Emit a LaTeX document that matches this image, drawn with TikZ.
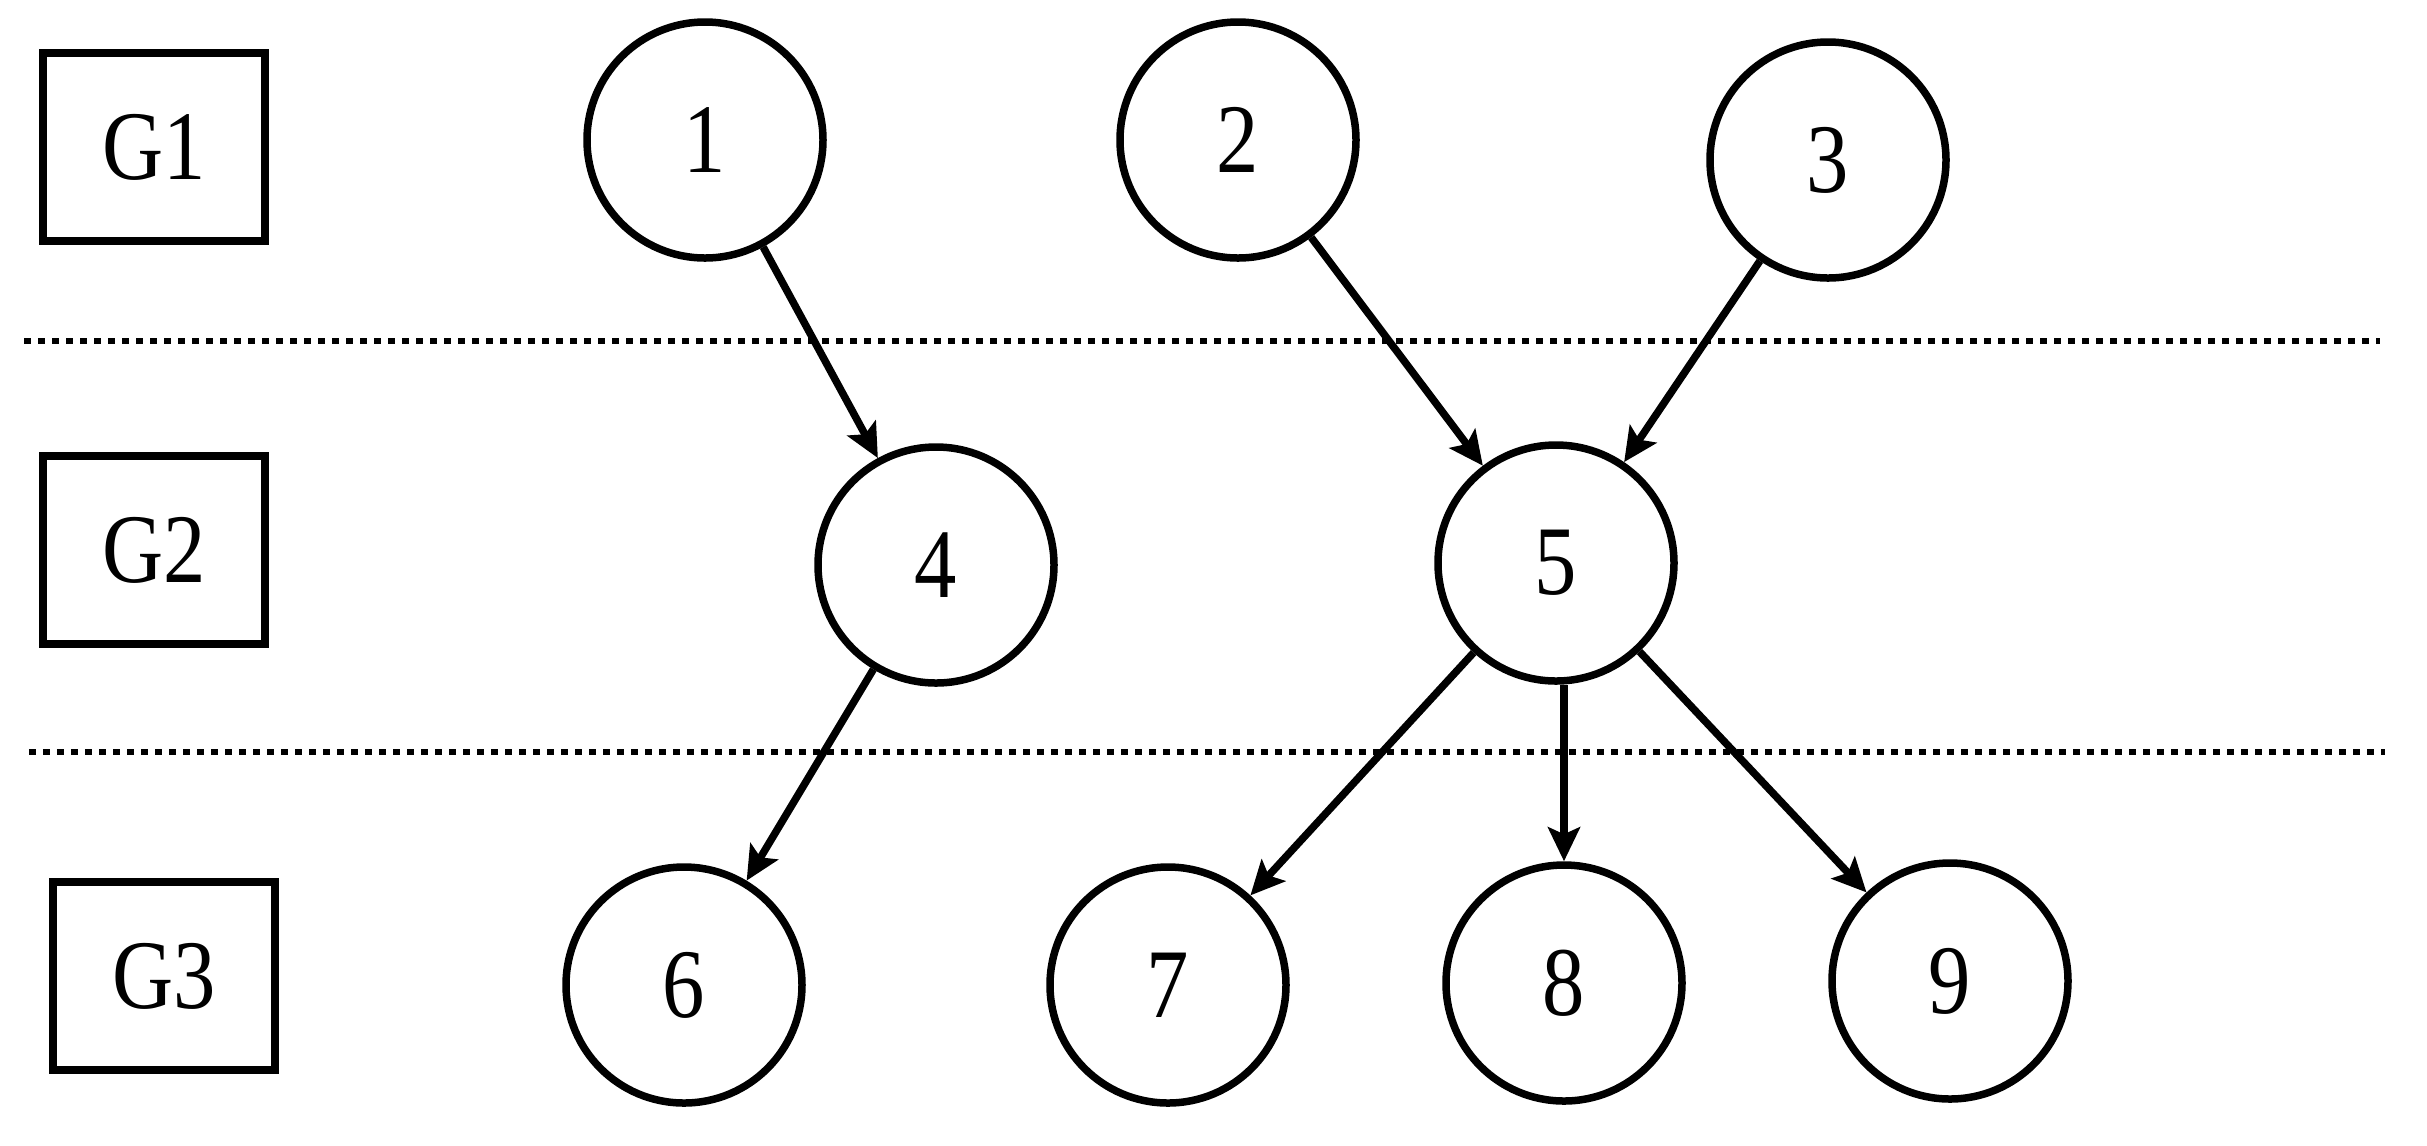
\documentclass[tikz,border=0pt]{standalone}
\usepackage{fontspec}
\setmainfont{Liberation Serif}[FakeStretch=0.86]
\usetikzlibrary{arrows.meta}
\begin{document}
\begin{tikzpicture}[
  every node/.style={font=\fontsize{28}{30}\selectfont},
  vert/.style={circle, draw, line width=0.75mm, minimum size=2.36cm, inner sep=0pt},
  grp/.style={rectangle, draw, line width=0.8mm, minimum width=2.22cm, minimum height=1.88cm, inner sep=0pt},
  sep/.style={line width=0.6mm, dash pattern=on 0.7mm off 0.7mm},
  link/.style={line width=0.75mm, -{Stealth[length=3.4mm,width=3.2mm,inset=0.7mm]}}
]
\useasboundingbox (0,0) rectangle (24.27,-11.45);
\node[grp] (g1) at (1.54,-1.47) {G1};
\node[grp] (g2) at (1.54,-5.50) {G2};
\node[grp] (g3) at (1.64,-9.76) {G3};
\coordinate (l1a) at (0.24,-3.41);
\coordinate (l1b) at (23.80,-3.41);
\coordinate (l2a) at (0.29,-7.52);
\coordinate (l2b) at (23.85,-7.52);
\draw[sep] (l1a) -- (l1b);
\draw[sep] (l2a) -- (l2b);
\node[vert] (n1) at (7.05,-1.40) {1};
\node[vert] (n2) at (12.38,-1.40) {2};
\node[vert] (n3) at (18.28,-1.60) {3};
\node[vert] (n4) at (9.36,-5.65) {4};
\node[vert] (n5) at (15.56,-5.63) {5};
\node[vert] (n6) at (6.84,-9.85) {6};
\node[vert] (n7) at (11.68,-9.85) {7};
\node[vert] (n8) at (15.64,-9.83) {8};
\node[vert] (n9) at (19.50,-9.81) {9};
\draw[link] (n1) -- (n4);
\draw[link] (n2) -- (n5);
\draw[link] (n3) -- (n5);
\draw[link] (n4) -- (n6);
\draw[link] (n5) -- (n7);
\draw[link] (n8 |- n5.south) -- (n8.north);
\draw[link] (n5) -- (n9);
\end{tikzpicture}
\end{document}
